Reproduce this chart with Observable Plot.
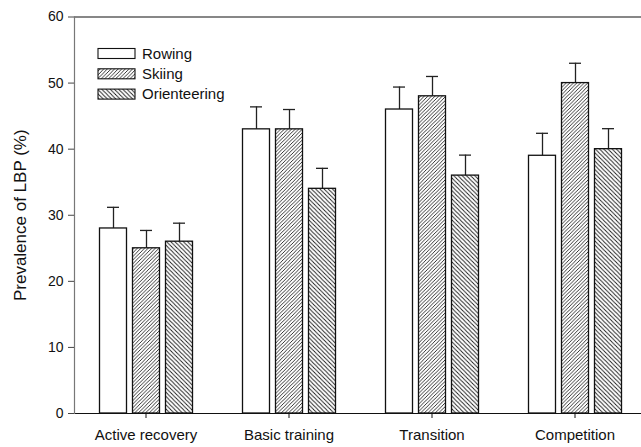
<!DOCTYPE html>
<html>
<head>
<meta charset="utf-8">
<script src="https://cdn.jsdelivr.net/npm/d3@7"></script>
<script src="https://cdn.jsdelivr.net/npm/@observablehq/plot@0.6"></script>
<style>
  body { margin: 0; background: white; }
  #chart svg { font-family: "Liberation Sans", Arial, sans-serif; }
  #chart [aria-label="y-axis label"] { font-size: 17px; }
</style>
</head>
<body>
<div id="chart"></div>
<script>
const groups = ["Active recovery", "Basic training", "Transition", "Competition"];
const series = ["Rowing", "Skiing", "Orienteering"];
const rowing = [28, 43, 46, 39];
const skiing = [25, 43, 48, 50];
const orienteering = [26, 34, 36, 40];
const rowingErr = [3.2, 3.4, 3.4, 3.4];
const skiingErr = [2.7, 3.0, 3.0, 3.0];
const orienteeringErr = [2.8, 3.1, 3.1, 3.1];
const yTicks = [0, 10, 20, 30, 40, 50, 60];

const valuesBySeries = {Rowing: rowing, Skiing: skiing, Orienteering: orienteering};
const errBySeries = {Rowing: rowingErr, Skiing: skiingErr, Orienteering: orienteeringErr};
const data = [];
groups.forEach((g, i) => series.forEach(s => {
  data.push({group: g, series: s, value: valuesBySeries[s][i], err: errBySeries[s][i]});
}));

const fills = ["white", "url(#hatchSki)", "url(#hatchOri)"];

const plot = Plot.plot({
  width: 641,
  height: 447,
  marginLeft: 73.5,
  marginRight: -4.5,
  marginTop: 16.5,
  marginBottom: 34,
  fx: {domain: groups, padding: 0, axis: null},
  x: {domain: series, paddingInner: 0.19, paddingOuter: 0.73, axis: null},
  y: {domain: [0, 60], axis: null},
  color: {domain: series, range: fills},
  marks: [
    Plot.ruleY([0], {stroke: "#111", strokeWidth: 1.2}),
    Plot.ruleY([60], {stroke: "#111", strokeWidth: 1.2}),
    Plot.frame({anchor: "left", facetAnchor: "left", stroke: "#777", strokeWidth: 1.2}),
    Plot.ruleX(data, {fx: "group", x: "series", y1: "value", y2: d => d.value + d.err, stroke: "#222", strokeWidth: 1.3}),
    Plot.tickY(data, {fx: "group", x: "series", y: d => d.value + d.err, stroke: "#222", strokeWidth: 1.3, insetLeft: 7.5, insetRight: 7.5}),
    Plot.barY(data, {fx: "group", x: "series", y: "value", fill: "series", stroke: "#111", strokeWidth: 1.3}),
    Plot.axisY({ticks: yTicks, tickSize: 6, tickPadding: 5, fontSize: 14, stroke: "#444",
      label: "Prevalence of LBP (%)", labelAnchor: "center", labelArrow: "none", labelOffset: 61, color: "#111"}),
    Plot.axisFx({anchor: "bottom", tickSize: 5, tickPadding: 11, fontSize: 15, label: null, color: "#111"})
  ]
});

const svg = d3.select(plot);
const defs = svg.insert("defs", ":first-child");
const ski = defs.append("pattern").attr("id", "hatchSki").attr("patternUnits", "userSpaceOnUse")
  .attr("width", 3.6).attr("height", 3.6);
ski.append("rect").attr("width", 3.6).attr("height", 3.6).attr("fill", "white");
ski.append("path").attr("d", "M-0.9,0.9 L0.9,-0.9 M0,3.6 L3.6,0 M2.7,4.5 L4.5,2.7")
  .attr("stroke", "#111").attr("stroke-width", 0.85);
const ori = defs.append("pattern").attr("id", "hatchOri").attr("patternUnits", "userSpaceOnUse")
  .attr("width", 4.2).attr("height", 4.2);
ori.append("rect").attr("width", 4.2).attr("height", 4.2).attr("fill", "white");
ori.append("path").attr("d", "M-1.05,3.15 L1.05,5.25 M0,0 L4.2,4.2 M3.15,-1.05 L5.25,1.05")
  .attr("stroke", "#111").attr("stroke-width", 0.85);

// Legend inside the plot area
const legend = svg.append("g").attr("font-family", "Liberation Sans, Arial, sans-serif")
  .attr("font-size", 15).attr("text-anchor", "start");
series.forEach((s, i) => {
  const y = 48.5 + i * 20.3;
  legend.append("rect").attr("x", 98).attr("y", y).attr("width", 37).attr("height", 10)
    .attr("fill", fills[i]).attr("stroke", "#111").attr("stroke-width", 1.1);
  legend.append("text").attr("x", 142).attr("y", y + 10.2).attr("fill", "#111").text(s);
});

document.getElementById("chart").appendChild(plot);
</script>
</body>
</html>
